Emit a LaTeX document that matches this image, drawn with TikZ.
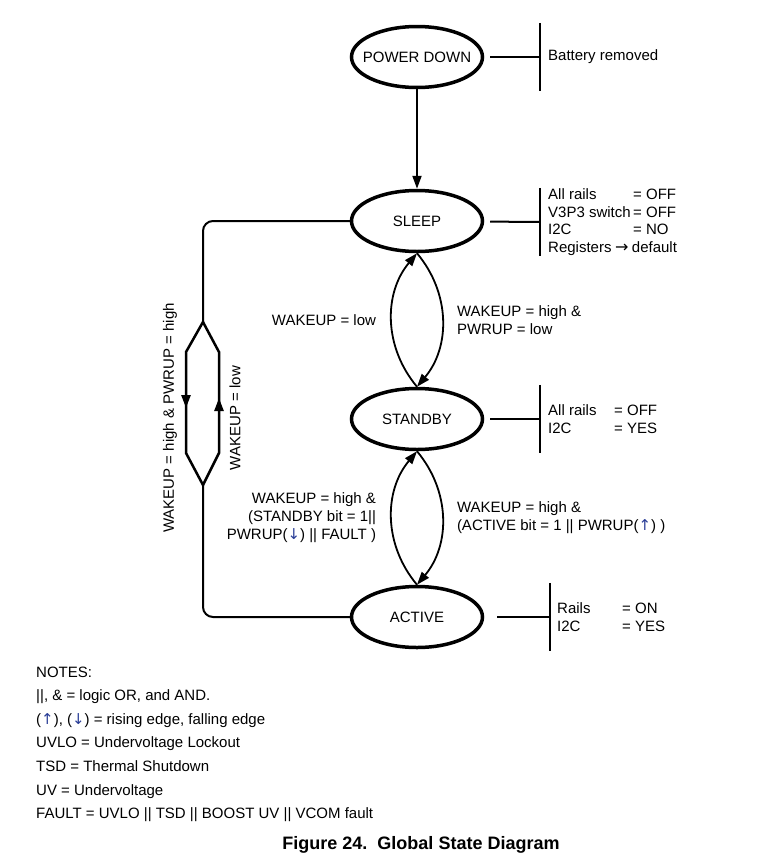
\documentclass[tikz,border=0pt]{standalone}
\usepackage{fontspec}
\setmainfont{Liberation Sans}
\newfontfamily\symfont{DejaVu Sans}
\usetikzlibrary{arrows.meta, shapes.geometric, positioning}
\definecolor{edgeblue}{RGB}{40,60,150}
\newcommand{\stname}[1]{\makebox[60pt]{#1}}
\newcommand{\upedge}{{\symfont\color{edgeblue}↑}}
\newcommand{\dnedge}{{\symfont\color{edgeblue}↓}}

\tikzset{
  state/.style={draw, ellipse, line width=3.5pt, minimum width=131pt,
    minimum height=61pt, inner sep=0pt, font=\fontsize{15}{18}\selectfont},
  infobox/.style={anchor=west, minimum height=68pt, inner xsep=8pt,
    inner ysep=0pt, align=left, font=\fontsize{15}{17.5}\selectfont},
  lbl/.style={inner sep=0pt, font=\fontsize{15}{18}\selectfont},
  tip/.style={-{Triangle[length=13pt, width=9pt]}},
  arc/.style={line width=1.8pt},
}

\begin{document}
\begin{tikzpicture}[x=1pt, y=-1pt]
  \useasboundingbox (0,0) rectangle (766,865);
  % states
  \node[state] (pdown) at (417,57) {\stname{POWER DOWN}};
  \node[state] (sleep) at (417,221) {\stname{SLEEP}};
  \node[state] (standby) at (417,419) {\stname{STANDBY}};
  \node[state] (active) at (417,617) {\stname{ACTIVE}};
  % condition boxes
  \node[infobox] (pdinfo) at (540,57) {Battery removed};
  \node[infobox] (sleepinfo) at (540,222) {\makebox[85pt][l]{All rails}= OFF\\
    \makebox[85pt][l]{V3P3 switch}= OFF\\
    \makebox[85pt][l]{I2C}= NO\\
    Registers\hspace{3.5pt}{\symfont\fontsize{16}{17}\selectfont →}\hspace{3.5pt}default};
  \node[infobox] (stbyinfo) at (540,419) {\makebox[66pt][l]{All rails}= OFF\\
    \makebox[66pt][l]{I2C}= YES};
  \node[infobox, inner xsep=7pt] (actinfo) at (550,617) {\makebox[65pt][l]{Rails}= ON\\
    \makebox[65pt][l]{I2C}= YES};
  \foreach \s/\b/\g in {pdown/pdinfo/6pt, sleep/sleepinfo/6pt, standby/stbyinfo/6pt, active/actinfo/13pt} {
    \draw[line width=2pt, shorten <=\g] (\s) -- (\b.west);
    \draw[line width=2.5pt] (\b.north west) -- (\b.south west);
  }
  % transitions
  \draw[line width=2pt, tip] (pdown) -- (sleep);
  \draw[arc, tip] (standby.north) to[bend left=40]
    node[lbl, midway, left=15pt] {WAKEUP = low} (sleep.south);
  \draw[arc, tip] (sleep.south) to[bend left=40]
    node[lbl, midway, right=14pt, align=left] {WAKEUP = high \&\\PWRUP = low} (standby.north);
  \draw[arc, tip] (active.north) to[bend left=40]
    node[lbl, midway, left=15pt, align=right] {WAKEUP = high \&\\(STANDBY bit = 1||\\PWRUP(\dnedge) || FAULT )} (standby.south);
  \draw[arc, tip] (standby.south) to[bend left=40]
    node[lbl, midway, right=14pt, align=left] {WAKEUP = high \&\\(ACTIVE bit = 1 || PWRUP(\upedge) )} (active.north);
  % sleep <-> active loop
  \coordinate (split) at (203,322);
  \coordinate (merge) at (203,485);
  \draw[line width=2pt, rounded corners=10pt] (sleep.west) -- (203,221) -- (split);
  \draw[line width=2pt, rounded corners=10pt] (merge) -- (203,617) -- (active.west);
  \draw[line width=2.5pt, line join=miter] (split) -- (186,352) -- (186,453) -- (merge)
    -- (219,453) -- (219,352) -- cycle;
  \draw[line width=2.5pt, tip] (186,380) -- (186,408);
  \draw[line width=2.5pt, tip] (219,426) -- (219,398);
  \node[lbl, rotate=90] (gosleep) at (170,418) {WAKEUP = high \& PWRUP = high};
  \node[lbl, rotate=90] (goactive) at (235,418) {WAKEUP = low};
  % notes
  \foreach \txt [count=\i] in {NOTES:, {||, \& = logic OR, and AND.},
      {(\upedge), (\dnedge) = rising edge, falling edge},
      UVLO = Undervoltage Lockout, TSD = Thermal Shutdown, UV = Undervoltage,
      FAULT = UVLO || TSD || BOOST UV || VCOM fault}
    \node[lbl, anchor=base west] (note\i) at (36,{653.5+23.6*\i}) {\txt};
  \node[anchor=base, inner sep=0pt, font=\fontsize{18}{21}\selectfont\bfseries] (caption)
    at (421,849.5) {Figure 24.\ \ Global State Diagram};
\end{tikzpicture}
\end{document}
